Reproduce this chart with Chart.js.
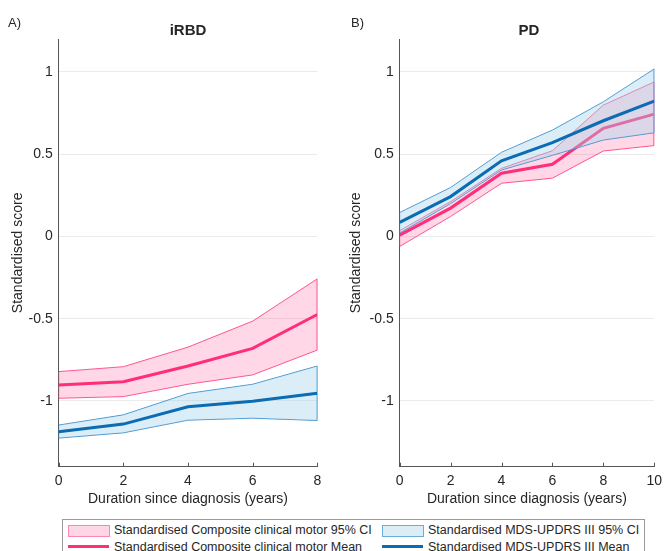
<!DOCTYPE html>
<html>
<head>
<meta charset="utf-8">
<script src="https://cdn.jsdelivr.net/npm/chart.js@4.4.0/dist/chart.umd.min.js"></script>
<style>
  body { margin: 0; background: #fff; font-family: "Liberation Sans", Arial, sans-serif; color: #262626; }
  #wrap { position: relative; width: 668px; height: 551px; overflow: hidden; }
  .panel { position: absolute; top: 0; width: 334px; height: 512px; }
  .tag { position: absolute; font-size: 13px; line-height: 14px; }
  .ttl { position: absolute; font-size: 15px; line-height: 18px; font-weight: bold; transform: translateX(-50%); white-space: nowrap; }
  #legend { position: absolute; left: 62px; top: 519px; width: 581px; height: 40px; border: 1px solid #9a9a9a; background: #fff; font-size: 12.5px; }
  .patch { position: absolute; width: 40px; height: 10px; }
  .mline { position: absolute; width: 41px; height: 3px; }
  .ltxt { position: absolute; line-height: 16px; white-space: nowrap; }
</style>
</head>
<body>
<div id="wrap">
  <div class="panel" style="left:0"><canvas id="chartA"></canvas></div>
  <div class="panel" style="left:334px"><canvas id="chartB"></canvas></div>
  <div class="tag" style="left:8px;top:16px">A)</div>
  <div class="tag" style="left:351px;top:16px">B)</div>
  <div class="ttl" style="left:188px;top:21px">iRBD</div>
  <div class="ttl" style="left:529px;top:21px">PD</div>
  <div id="legend">
    <div class="patch" style="left:5px;top:5px;background:#ffd6e6;border:1px solid #ff86b0"></div>
    <div class="ltxt" style="left:51px;top:2px">Standardised Composite clinical motor 95% CI</div>
    <div class="mline" style="left:5px;top:25px;background:#ff2d7a"></div>
    <div class="ltxt" style="left:51px;top:19px">Standardised Composite clinical motor Mean</div>
    <div class="patch" style="left:319px;top:5px;background:#dbeef7;border:1px solid #6aaedb"></div>
    <div class="ltxt" style="left:365px;top:2px">Standardised MDS-UPDRS III 95% CI</div>
    <div class="mline" style="left:319px;top:25px;background:#0b6cb4"></div>
    <div class="ltxt" style="left:365px;top:19px">Standardised MDS-UPDRS III Mean</div>
  </div>
</div>
<script>
// tick labels
const yTicks = [-1, -0.5, 0, 0.5, 1];
const irbdXTicks = [0, 2, 4, 6, 8];
const pdXTicks = [0, 2, 4, 6, 8, 10];

// iRBD (years since diagnosis)
const irbdYears = [0, 2, 4, 6, 8];
const irbdCompMean = [-0.903, -0.883, -0.788, -0.681, -0.475];
const irbdCompHi = [-0.822, -0.792, -0.673, -0.515, -0.258];
const irbdCompLo = [-0.984, -0.974, -0.899, -0.842, -0.691];
const irbdUpdrsMean = [-1.188, -1.141, -1.036, -1.002, -0.953];
const irbdUpdrsHi = [-1.147, -1.085, -0.955, -0.899, -0.788];
const irbdUpdrsLo = [-1.226, -1.194, -1.117, -1.105, -1.119];

// PD
const pdYears = [0, 2, 4, 6, 8, 10];
const pdCompMean = [0.008, 0.172, 0.384, 0.438, 0.657, 0.743];
const pdCompHi = [0.035, 0.212, 0.414, 0.521, 0.798, 0.939];
const pdCompLo = [-0.061, 0.121, 0.323, 0.354, 0.519, 0.552];
const pdUpdrsMean = [0.085, 0.242, 0.459, 0.570, 0.703, 0.822];
const pdUpdrsHi = [0.145, 0.297, 0.511, 0.646, 0.818, 1.018];
const pdUpdrsLo = [0.020, 0.200, 0.404, 0.493, 0.586, 0.630];

const PINK = '#ff2d7a';
const BLUE = '#0b6cb4';
const FONT = '"Liberation Sans", Arial, sans-serif';

// small inward tick marks on the x axis, like matlab
const innerTicks = {
    id: 'innerTicks',
    afterDraw(chart) {
        const { ctx, chartArea } = chart;
        const x = chart.scales.x;
        ctx.save();
        ctx.strokeStyle = '#555';
        ctx.lineWidth = 1;
        x.ticks.forEach((t, i) => {
            const px = Math.round(x.getPixelForTick(i)) + 0.5;
            ctx.beginPath();
            ctx.moveTo(px, chartArea.bottom);
            ctx.lineTo(px, chartArea.bottom - 4);
            ctx.stroke();
        });
        ctx.restore();
    }
};

function pts(xs, ys) {
    return xs.map((x, i) => ({ x: x, y: ys[i] }));
}

// closed outline round a CI band
function outline(xs, lo, hi) {
    const top = pts(xs, hi);
    const bottom = pts(xs, lo).reverse();
    return top.concat(bottom, [top[0]]);
}

function bandSets(xs, lo, hi, line, fillColor, edgeColor, baseIndex, order) {
    return [
        { data: pts(xs, lo), borderWidth: 0, pointRadius: 0, fill: false, order: order },
        { data: pts(xs, hi), borderWidth: 0, pointRadius: 0, fill: baseIndex, backgroundColor: fillColor, order: order },
        { data: outline(xs, lo, hi), borderColor: edgeColor, borderWidth: 1, pointRadius: 0, fill: false, order: order }
    ];
}

function makePanel(id, xs, xTicks, xMax, comp, updrs, geo) {
    const datasets = [];
    datasets.push(...bandSets(xs, comp.lo, comp.hi, PINK, 'rgba(255,45,120,0.19)', '#ff5c93', 0, 4));
    datasets.push({ data: pts(xs, comp.mean), borderColor: PINK, borderWidth: 3, pointRadius: 0, fill: false, order: 3 });
    datasets.push(...bandSets(xs, updrs.lo, updrs.hi, BLUE, 'rgba(165,212,235,0.4)', '#3d8fcc', 4, 2));
    datasets.push({ data: pts(xs, updrs.mean), borderColor: BLUE, borderWidth: 3, pointRadius: 0, fill: false, order: 1 });

    new Chart(document.getElementById(id), {
        type: 'line',
        data: { datasets: datasets },
        plugins: [innerTicks],
        options: {
            responsive: false,
            animation: false,
            events: [],
            layout: { padding: { top: 39, right: geo.right, left: 0, bottom: 0 } },
            elements: { line: { tension: 0 } },
            plugins: { legend: { display: false }, tooltip: { enabled: false } },
            scales: {
                x: {
                    type: 'linear',
                    min: 0,
                    max: xMax,
                    afterBuildTicks: s => { s.ticks = xTicks.map(v => ({ value: v })); },
                    afterFit: s => { s.height = 45.3; },
                    grid: { display: false, drawTicks: false },
                    border: { display: true, color: '#555', width: 1 },
                    ticks: { color: '#262626', padding: 6, maxRotation: 0, font: { family: FONT, size: 14 } },
                    title: {
                        display: true,
                        text: 'Duration since diagnosis (years)',
                        color: '#262626',
                        padding: { top: 0, bottom: 4.6 },
                        font: { family: FONT, size: 14 }
                    }
                },
                y: {
                    type: 'linear',
                    min: -1.4,
                    max: 1.2,
                    afterBuildTicks: s => { s.ticks = yTicks.map(v => ({ value: v })); },
                    afterFit: s => { s.width = geo.left; },
                    grid: { color: '#ebebeb', drawTicks: false },
                    border: { display: true, color: '#555', width: 1 },
                    ticks: { color: '#262626', padding: 6, callback: v => String(v), font: { family: FONT, size: 14 } },
                    title: {
                        display: true,
                        text: 'Standardised score',
                        color: '#262626',
                        padding: { top: geo.titlePad, bottom: 0 },
                        font: { family: FONT, size: 14 }
                    }
                }
            }
        }
    });
}

function sizeCanvas(id) {
    const c = document.getElementById(id);
    c.width = 334;
    c.height = 512;
    c.style.width = '334px';
    c.style.height = '512px';
}
sizeCanvas('chartA');
sizeCanvas('chartB');

makePanel('chartA', irbdYears, irbdXTicks, 8,
    { mean: irbdCompMean, lo: irbdCompLo, hi: irbdCompHi },
    { mean: irbdUpdrsMean, lo: irbdUpdrsLo, hi: irbdUpdrsHi },
    { left: 58.7, right: 16.7, titlePad: 9.6 });

makePanel('chartB', pdYears, pdXTicks, 10,
    { mean: pdCompMean, lo: pdCompLo, hi: pdCompHi },
    { mean: pdUpdrsMean, lo: pdUpdrsLo, hi: pdUpdrsHi },
    { left: 65.7, right: 9, titlePad: 14.1 });
</script>
</body>
</html>
